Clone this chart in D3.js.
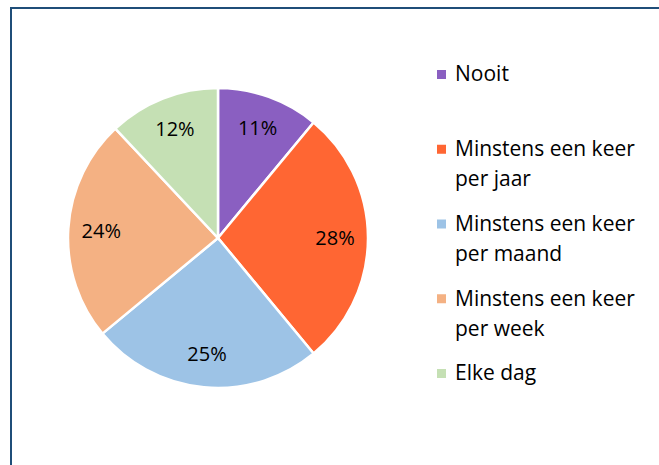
<html><head><meta charset="UTF-8">
<style>
  body, html { margin: 0; padding: 0; background: #fff; overflow: hidden; }
  svg text { font-family: 'Open Sans', 'Noto Sans', sans-serif; fill: #000; }
</style>
</head>
<body>
<svg id="chart" width="659" height="465"></svg>
<script src="https://d3js.org/d3.v7.min.js"></script>
<script>
const categories = ["Nooit", "Minstens een keer per jaar", "Minstens een keer per maand", "Minstens een keer per week", "Elke dag"];
const legendLines = [["Nooit"], ["Minstens een keer", "per jaar"], ["Minstens een keer", "per maand"], ["Minstens een keer", "per week"], ["Elke dag"]];
const values = [11, 28, 25, 24, 12];
const colors = ["#8a5fc1", "#ff6633", "#9dc3e6", "#f4b183", "#c5e0b4"];

const svg = d3.select("#chart");

// chart frame
svg.append("rect")
  .attr("x", 11).attr("y", 8)
  .attr("width", 680).attr("height", 500)
  .attr("fill", "none")
  .attr("stroke", "#1f4e79")
  .attr("stroke-width", 2);

const cx = 218, cy = 238, r = 150;

const pie = d3.pie().sort(null).value(d => d);
const arcs = pie(values);
const arc = d3.arc().innerRadius(0).outerRadius(r);
const labelArc = d3.arc().innerRadius(r * 0.78).outerRadius(r * 0.78);

const g = svg.append("g").attr("transform", `translate(${cx},${cy})`);

g.selectAll("path")
  .data(arcs)
  .enter().append("path")
  .attr("d", arc)
  .attr("fill", (d, i) => colors[i])
  .attr("stroke", "#fff")
  .attr("stroke-width", 2.5);

g.selectAll("text.lbl")
  .data(arcs)
  .enter().append("text")
  .attr("class", "lbl")
  .attr("transform", d => `translate(${labelArc.centroid(d)})`)
  .attr("text-anchor", "middle")
  .attr("dy", "0.35em")
  .style("font-size", "20px")
  .text(d => d.data + "%");

// legend
const legendY = d3.scalePoint().domain(d3.range(categories.length)).range([74, 373]);
const leg = svg.append("g");
categories.forEach((c, i) => {
  const y = legendY(i);
  leg.append("rect")
    .attr("x", 437).attr("y", y - 4)
    .attr("width", 9).attr("height", 9)
    .attr("fill", colors[i]);
  legendLines[i].forEach((line, j) => {
    leg.append("text")
      .attr("x", 455)
      .attr("y", y + j * 30)
      .attr("dy", "0.35em")
      .style("font-size", "21px")
      .text(line);
  });
});
</script>
</body></html>
